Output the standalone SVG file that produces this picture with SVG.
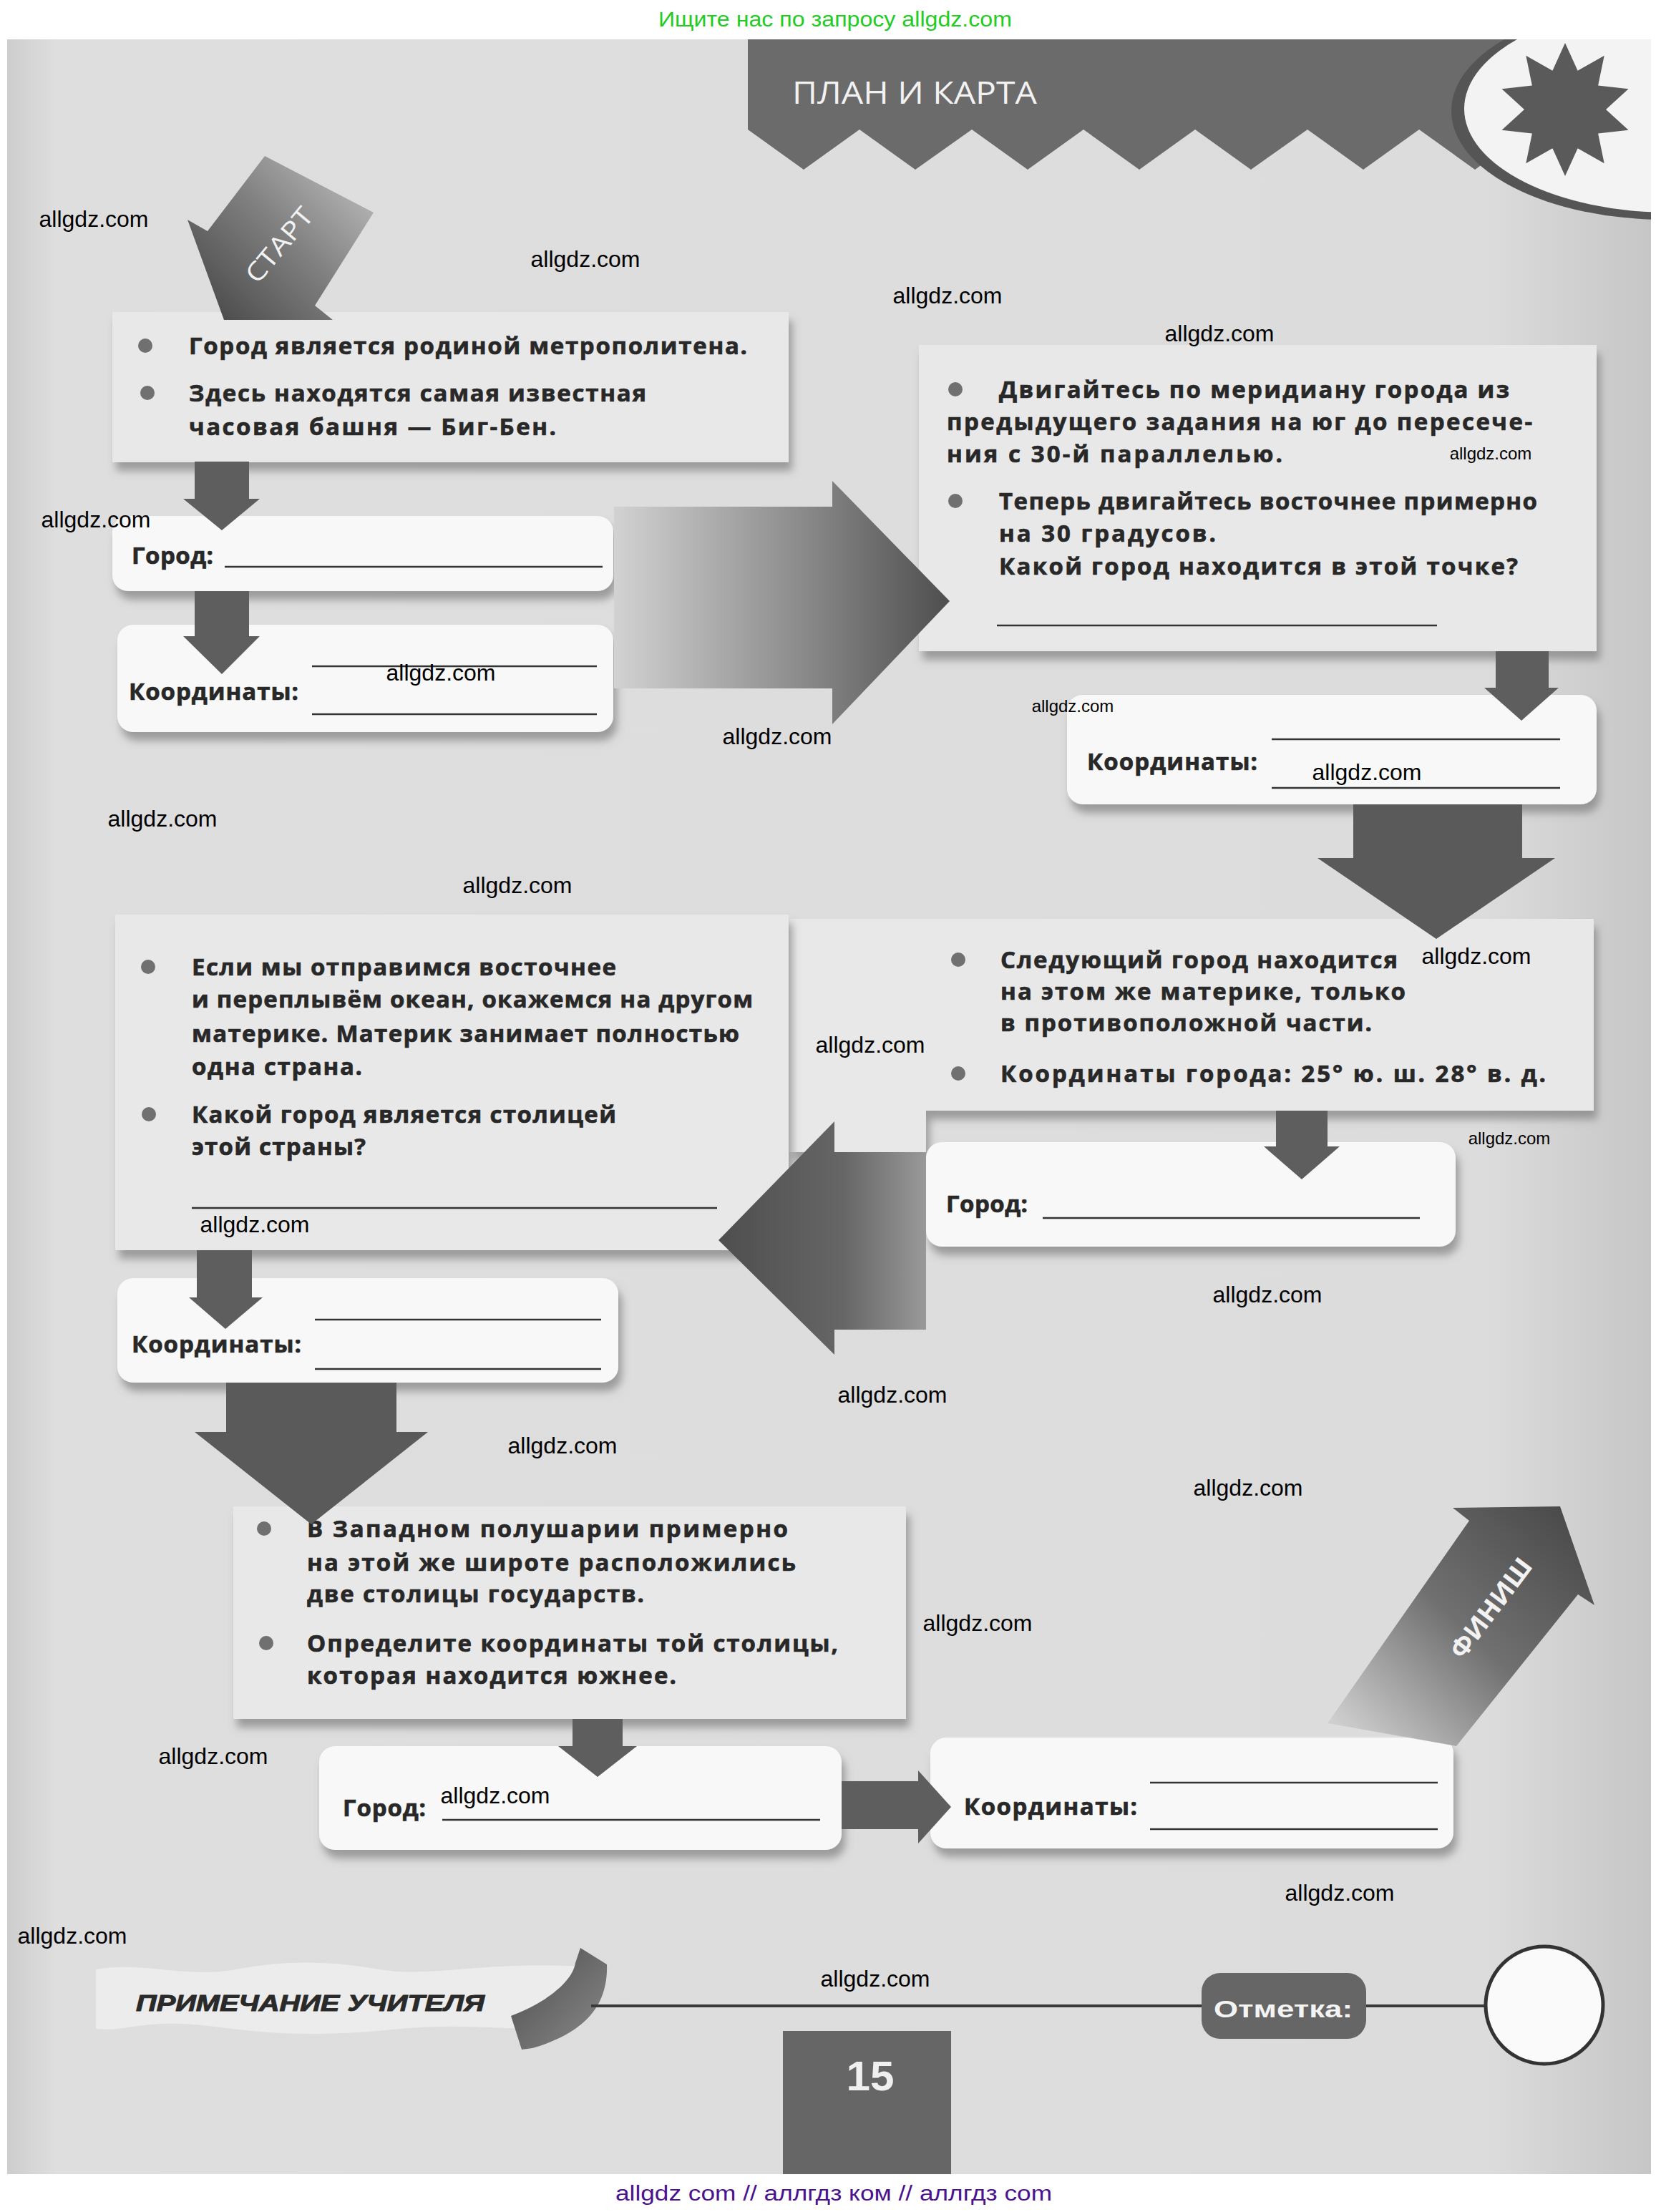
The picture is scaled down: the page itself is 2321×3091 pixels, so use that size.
<svg xmlns="http://www.w3.org/2000/svg" width="2321" height="3091" viewBox="0 0 2321 3091">
<style>
.t{font-family:"Open Sans","Noto Sans","DejaVu Sans",sans-serif;font-weight:700;font-size:33px;fill:#282828;stroke:#282828;stroke-width:0.7}
.wm{font-family:"Liberation Sans",Arial,sans-serif;font-size:32px;fill:#000;text-anchor:middle}
.wms{font-size:24px}
.box{fill:#e8e8e8;filter:url(#sh)}
.ans{fill:#f8f8f8;filter:url(#sh)}
.ln{stroke:#333;stroke-width:2.5}
.arr{fill:#5e5e5e}
.bul{fill:#707070}
.wt{font-family:"Open Sans","Noto Sans","DejaVu Sans",sans-serif;fill:#f2f2f2}
</style>
<defs>
<filter id="sh" x="-5%" y="-10%" width="115%" height="135%">
<feDropShadow dx="5" dy="12" stdDeviation="6" flood-color="#777" flood-opacity="0.65"/>
</filter>
<linearGradient id="pg" x1="0" y1="0" x2="1" y2="0">
<stop offset="0" stop-color="#cdcdcd"/><stop offset="0.03" stop-color="#dedede"/><stop offset="0.9" stop-color="#dcdcdc"/><stop offset="1" stop-color="#c6c6c6"/>
</linearGradient>
<linearGradient id="gR" gradientUnits="userSpaceOnUse" x1="858" y1="0" x2="1327" y2="0">
<stop offset="0" stop-color="#d2d2d2"/><stop offset="0.55" stop-color="#8c8c8c"/><stop offset="1" stop-color="#4e4e4e"/>
</linearGradient>
<linearGradient id="gL" gradientUnits="userSpaceOnUse" x1="1004" y1="0" x2="1294" y2="0">
<stop offset="0" stop-color="#4e4e4e"/><stop offset="0.6" stop-color="#666"/><stop offset="1" stop-color="#999"/>
</linearGradient>
<linearGradient id="gS" gradientUnits="userSpaceOnUse" x1="520" y1="230" x2="300" y2="450">
<stop offset="0" stop-color="#c2c2c2"/><stop offset="0.5" stop-color="#808080"/><stop offset="1" stop-color="#4a4a4a"/>
</linearGradient>
<linearGradient id="gF" gradientUnits="userSpaceOnUse" x1="2200" y1="2120" x2="1900" y2="2440">
<stop offset="0" stop-color="#4a4a4a"/><stop offset="0.5" stop-color="#707070"/><stop offset="1" stop-color="#cfcfcf"/>
</linearGradient>
<linearGradient id="gC" x1="0" y1="0" x2="1" y2="1">
<stop offset="0" stop-color="#4c4c4c"/><stop offset="1" stop-color="#8a8a8a"/>
</linearGradient>
<clipPath id="page"><rect x="10" y="55" width="2297" height="2983"/></clipPath>
</defs>

<rect width="2321" height="3091" fill="#fff"/>
<rect x="10" y="55" width="2297" height="2983" fill="url(#pg)"/>
<text x="1167" y="37" font-family="Liberation Sans,Arial,sans-serif" font-size="30" fill="#22cc22" text-anchor="middle" textLength="494" lengthAdjust="spacingAndGlyphs">Ищите нас по запросу allgdz.com</text>

<g id="header" clip-path="url(#page)">
<polygon fill="#6b6b6b" points="1045,55 2150,55 2150,181 2139,181 2061,237 1983,181 1905,237 1827,181 1748,237 1670,181 1592,237 1514,181 1436,237 1358,181 1279,237 1201,181 1123,237 1045,181"/>
<ellipse cx="2328" cy="155" rx="300" ry="152" fill="#555"/>
<ellipse cx="2334" cy="152" rx="288" ry="145" fill="#f3f3f3"/>
<polygon fill="#5a5a5a" points="2187,60 2204.6,98.8 2241.7,77.8 2233.1,119.5 2275.5,124.3 2244,153 2275.5,181.7 2233.1,186.5 2241.7,228.2 2204.6,207.2 2187,246 2169.4,207.2 2132.3,228.2 2140.9,186.5 2098.5,181.7 2130,153 2098.5,124.3 2140.9,119.5 2132.3,77.8 2169.4,98.8"/>
<text x="1107" y="145" class="wt" font-size="43" textLength="342" lengthAdjust="spacingAndGlyphs">ПЛАН И КАРТА</text>
</g>

<g id="nodes">
<g id="box1">
<rect class="box" x="157" y="436" width="945" height="210"/>
<circle class="bul" cx="203" cy="483" r="10"/>
<text class="t" x="264" y="495" textLength="780">Город является родиной метрополитена.</text>
<circle class="bul" cx="206" cy="549" r="10"/>
<text class="t" x="264" y="561" textLength="639">Здесь находятся самая известная</text>
<text class="t" x="264" y="608" textLength="513">часовая башня — Биг-Бен.</text>
</g>
<g id="gorod1">
<rect class="ans" x="157" y="721" width="700" height="105" rx="22"/>
<text class="t" x="184" y="788" textLength="114">Город:</text>
<line class="ln" x1="314" y1="792" x2="842" y2="792"/>
</g>
<g id="koord1">
<rect class="ans" x="164" y="873" width="693" height="150" rx="22"/>
<text class="t" x="180" y="978" textLength="237">Координаты:</text>
<line class="ln" x1="436" y1="931" x2="834" y2="931"/>
<line class="ln" x1="436" y1="998" x2="834" y2="998"/>
</g>
<g id="box2">
<rect class="box" x="1284" y="482" width="947" height="428"/>
<circle class="bul" cx="1335" cy="544" r="10"/>
<text class="t" x="1396" y="556" textLength="713">Двигайтесь по меридиану города из</text>
<text class="t" x="1323" y="601" textLength="818">предыдущего задания на юг до пересече-</text>
<text class="t" x="1323" y="646" textLength="469">ния с 30-й параллелью.</text>
<circle class="bul" cx="1335" cy="700" r="10"/>
<text class="t" x="1396" y="712" textLength="752">Теперь двигайтесь восточнее примерно</text>
<text class="t" x="1396" y="757" textLength="303">на 30 градусов.</text>
<text class="t" x="1396" y="803" textLength="725">Какой город находится в этой точке?</text>
<line class="ln" x1="1393" y1="874" x2="2008" y2="874"/>
</g>
<g id="koord2">
<rect class="ans" x="1491" y="971" width="740" height="153" rx="22"/>
<text class="t" x="1519" y="1076" textLength="238">Координаты:</text>
<line class="ln" x1="1777" y1="1033" x2="2180" y2="1033"/>
<line class="ln" x1="1777" y1="1101" x2="2180" y2="1101"/>
</g>
<g id="box3">
<path class="box" d="M1103 1284 H2227 V1552 H1294 V1610 H1103 Z"/>
<circle class="bul" cx="1339" cy="1341" r="10"/>
<text class="t" x="1398" y="1353" textLength="555">Следующий город находится</text>
<text class="t" x="1398" y="1397" textLength="566">на этом же материке, только</text>
<text class="t" x="1398" y="1441" textLength="519">в противоположной части.</text>
<circle class="bul" cx="1339" cy="1500" r="10"/>
<text class="t" x="1398" y="1512" textLength="762">Координаты города: 25° ю. ш. 28° в. д.</text>
</g>
<g id="gorod3">
<rect class="ans" x="1294" y="1596" width="740" height="146" rx="22"/>
<text class="t" x="1322" y="1694" textLength="114">Город:</text>
<line class="ln" x1="1457" y1="1702" x2="1984" y2="1702"/>
</g>
<g id="box4">
<rect class="box" x="161" y="1278" width="941" height="469"/>
<circle class="bul" cx="207" cy="1351" r="10"/>
<text class="t" x="268" y="1363" textLength="593">Если мы отправимся восточнее</text>
<text class="t" x="268" y="1408" textLength="784">и переплывём океан, окажемся на другом</text>
<text class="t" x="268" y="1456" textLength="765">материке. Материк занимает полностью</text>
<text class="t" x="268" y="1502" textLength="238">одна страна.</text>
<circle class="bul" cx="208" cy="1557" r="10"/>
<text class="t" x="268" y="1569" textLength="593">Какой город является столицей</text>
<text class="t" x="268" y="1614" textLength="243">этой страны?</text>
<line class="ln" x1="268" y1="1688" x2="1002" y2="1688"/>
</g>
<g id="koord4">
<rect class="ans" x="164" y="1786" width="700" height="146" rx="22"/>
<text class="t" x="184" y="1890" textLength="237">Координаты:</text>
<line class="ln" x1="440" y1="1844" x2="840" y2="1844"/>
<line class="ln" x1="440" y1="1913" x2="840" y2="1913"/>
</g>
<g id="box5">
<rect class="box" x="326" y="2105" width="940" height="297"/>
<circle class="bul" cx="369" cy="2136" r="10"/>
<text class="t" x="429" y="2148" textLength="672">В Западном полушарии примерно</text>
<text class="t" x="429" y="2195" textLength="683">на этой же широте расположились</text>
<text class="t" x="429" y="2239" textLength="471">две столицы государств.</text>
<circle class="bul" cx="372" cy="2296" r="10"/>
<text class="t" x="429" y="2308" textLength="742">Определите координаты той столицы,</text>
<text class="t" x="429" y="2353" textLength="516">которая находится южнее.</text>
</g>
<g id="gorod5">
<rect class="ans" x="446" y="2440" width="730" height="145" rx="22"/>
<text class="t" x="479" y="2538" textLength="116">Город:</text>
<line class="ln" x1="618" y1="2543" x2="1146" y2="2543"/>
</g>
<g id="koord6">
<rect class="ans" x="1300" y="2428" width="731" height="155" rx="22"/>
<text class="t" x="1347" y="2536" textLength="242">Координаты:</text>
<line class="ln" x1="1607" y1="2491" x2="2009" y2="2491"/>
<line class="ln" x1="1607" y1="2556" x2="2009" y2="2556"/>
</g>
</g>

<g id="connectors">
<g id="start">
<polygon fill="url(#gS)" points="370,218 522,297 440,427 465,447 313,447 262,307 290,323"/>
<text transform="translate(390,342) rotate(-50)" class="wt" font-size="36" font-weight="400" text-anchor="middle" y="13" textLength="125" lengthAdjust="spacingAndGlyphs">СТАРТ</text>
</g>
<polygon class="arr" points="272,645 348,645 348,697 363,697 310,741 256,697 272,697"/>
<polygon class="arr" points="272,826 348,826 348,889 363,889 310,942 256,889 272,889"/>
<polygon fill="url(#gR)" points="858,708 1163,708 1163,672 1327,840 1163,1012 1163,962 858,962"/>
<polygon class="arr" points="2090,910 2164,910 2164,961 2178,961 2126,1007 2074,961 2090,961"/>
<polygon fill="#5a5a5a" points="1891,1124 2127,1124 2127,1199 2173,1199 2007,1312 1841,1199 1891,1199"/>
<polygon class="arr" points="1783,1552 1855,1552 1855,1602 1872,1602 1819,1648 1766,1602 1783,1602"/>
<polygon fill="url(#gL)" points="1294,1610 1166,1610 1166,1567 1004,1733 1166,1893 1166,1858 1294,1858"/>
<polygon class="arr" points="275,1747 352,1747 352,1813 367,1813 315,1857 264,1813 275,1813"/>
<polygon fill="#5a5a5a" points="316,1932 554,1932 554,2001 598,2001 435,2130 272,2001 316,2001"/>
<polygon class="arr" points="800,2402 870,2402 870,2440 890,2440 835,2483 780,2440 800,2440"/>
<polygon class="arr" points="1176,2489 1283,2489 1283,2474 1329,2525 1283,2576 1283,2556 1176,2556"/>
<g id="finish">
<polygon fill="url(#gF)" points="2180,2105 2228,2243 2205,2228 2035,2440 1855,2408 2053,2125 2030,2107"/>
<text transform="translate(2083,2247) rotate(-53)" class="wt" font-size="36" font-weight="700" text-anchor="middle" y="13" textLength="165" lengthAdjust="spacingAndGlyphs">ФИНИШ</text>
</g>
</g>

<g id="footer">
<path fill="#ececec" d="M134 2752 C200 2740 260 2765 330 2752 S460 2740 530 2752 S680 2740 811 2748 L811 2832 C740 2842 660 2825 560 2835 S400 2845 300 2832 S180 2840 134 2835 Z"/>
<text x="190" y="2810" font-family="Liberation Sans,Arial,sans-serif" font-weight="700" font-style="italic" font-size="32" fill="#2a2a2a" stroke="#2a2a2a" stroke-width="1" textLength="487" lengthAdjust="spacingAndGlyphs">ПРИМЕЧАНИЕ УЧИТЕЛЯ</text>
<path fill="url(#gC)" d="M811 2722 L848 2745 C850 2800 820 2840 744 2862 L729 2864 L714 2817 C760 2800 800 2770 804 2743 Z"/>
<line x1="826" y1="2803" x2="2080" y2="2803" stroke="#3a3a3a" stroke-width="4"/>
<rect x="1679" y="2757" width="230" height="92" rx="26" fill="#666"/>
<text x="1696" y="2819" font-family="Liberation Sans,Arial,sans-serif" font-weight="700" font-size="34" fill="#f4f4f4" textLength="194" lengthAdjust="spacingAndGlyphs">Отметка:</text>
<circle cx="2158" cy="2802" r="82" fill="#fafafa" stroke="#333" stroke-width="5"/>
<rect x="1094" y="2838" width="235" height="200" fill="#666"/>
<text x="1216" y="2921" font-family="Liberation Sans,Arial,sans-serif" font-weight="700" font-size="58" fill="#f0f0f0" text-anchor="middle" textLength="67" lengthAdjust="spacingAndGlyphs">15</text>
<text x="1165" y="3075" font-family="Liberation Sans,Arial,sans-serif" font-size="29" fill="#4b1390" text-anchor="middle" textLength="610" lengthAdjust="spacingAndGlyphs">allgdz com  //  аллгдз ком  //  аллгдз com</text>
</g>

<g id="watermarks">
<text class="wm" x="131" y="317">allgdz.com</text>
<text class="wm" x="818" y="373">allgdz.com</text>
<text class="wm" x="1324" y="424">allgdz.com</text>
<text class="wm" x="1704" y="477">allgdz.com</text>
<text class="wm wms" x="2083" y="642">allgdz.com</text>
<text class="wm" x="134" y="737">allgdz.com</text>
<text class="wm" x="616" y="951">allgdz.com</text>
<text class="wm wms" x="1499" y="995">allgdz.com</text>
<text class="wm" x="1086" y="1040">allgdz.com</text>
<text class="wm" x="1910" y="1090">allgdz.com</text>
<text class="wm" x="227" y="1155">allgdz.com</text>
<text class="wm" x="723" y="1248">allgdz.com</text>
<text class="wm" x="2063" y="1347">allgdz.com</text>
<text class="wm" x="1216" y="1471">allgdz.com</text>
<text class="wm wms" x="2109" y="1599">allgdz.com</text>
<text class="wm" x="356" y="1722">allgdz.com</text>
<text class="wm" x="1771" y="1820">allgdz.com</text>
<text class="wm" x="1247" y="1960">allgdz.com</text>
<text class="wm" x="786" y="2031">allgdz.com</text>
<text class="wm" x="1744" y="2090">allgdz.com</text>
<text class="wm" x="1366" y="2279">allgdz.com</text>
<text class="wm" x="298" y="2465">allgdz.com</text>
<text class="wm" x="692" y="2520">allgdz.com</text>
<text class="wm" x="1872" y="2656">allgdz.com</text>
<text class="wm" x="101" y="2716">allgdz.com</text>
<text class="wm" x="1223" y="2776">allgdz.com</text>
</g>
</svg>
